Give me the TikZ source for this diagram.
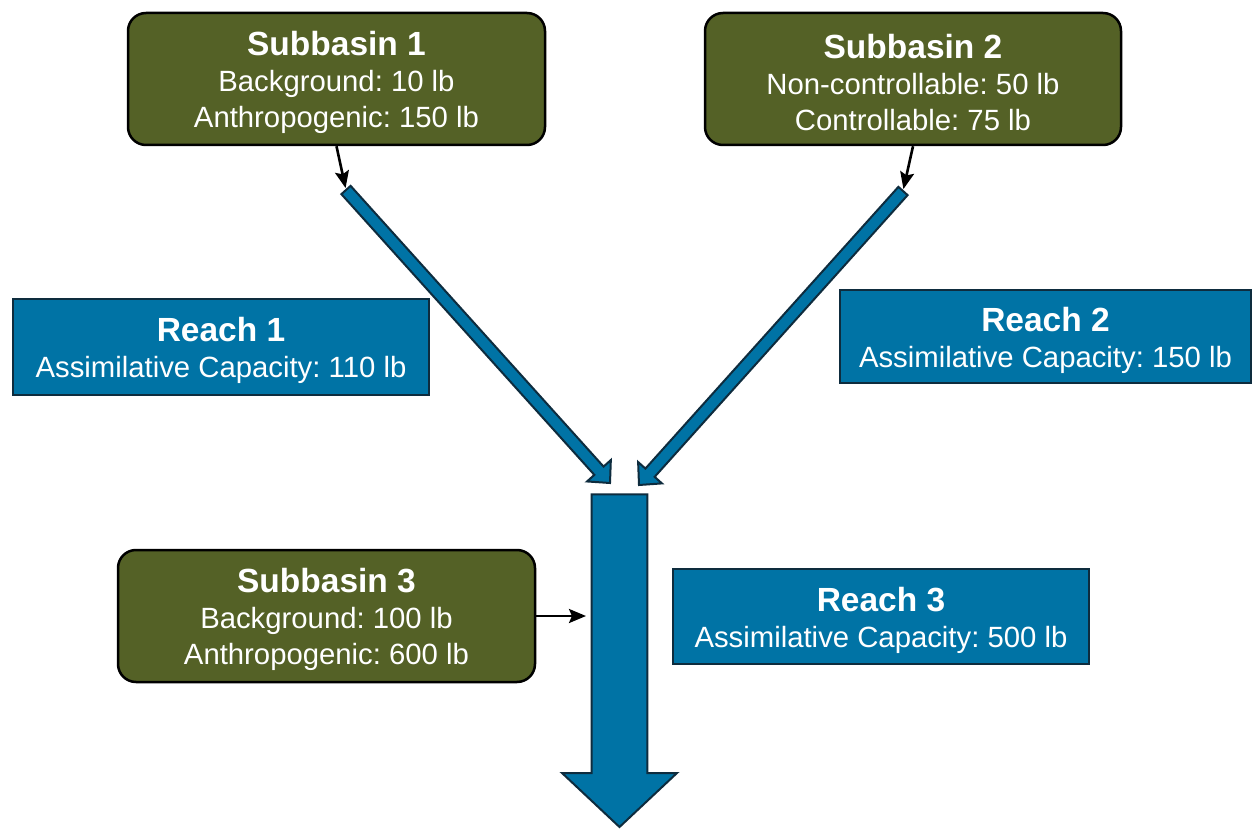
\documentclass[tikz,border=0pt]{standalone}
\usepackage{fontspec}
\setmainfont{Liberation Sans}
\frenchspacing
\usetikzlibrary{calc,arrows.meta}
\definecolor{olive}{HTML}{546126}
\definecolor{flowblue}{HTML}{0073A5}
\definecolor{flowedge}{HTML}{0E2C3E}
\newcommand\bodyfnt{\fontsize{29.3}{36}\selectfont}
\newcommand\titlefnt{\fontsize{33.5}{36}\selectfont\bfseries}
\newcommand\blockarrow[5]{%
  \coordinate (ba-h) at ($(#2)!#5!(#1)$);
  \draw[flowarrow] ($(#1)!#3!90:(#2)$) -- ($(ba-h)!#3!-90:(#1)$) -- ($(ba-h)!#4!-90:(#1)$) -- (#2)
    -- ($(ba-h)!#4!90:(#1)$) -- ($(ba-h)!#3!90:(#1)$) -- ($(#1)!#3!-90:(#2)$) -- cycle;}
\tikzset{
  subbox/.style={draw=black, line width=2.5pt, fill=olive, rounded corners=18pt, inner sep=0pt},
  reachbox/.style={draw=flowedge, line width=2.5pt, fill=flowblue, inner sep=0pt},
  boxtext/.style={text=white, align=center, font=\bodyfnt, inner sep=0pt},
  flowarrow/.style={draw=flowedge, line width=2pt, fill=flowblue, line join=miter},
  conn/.style={draw=black, line width=2.6pt, -{Stealth[length=17pt,width=14pt,inset=3pt]}}
}
\begin{document}
\begin{tikzpicture}[x=1pt,y=-1pt]
\fill[white] (0,0) rectangle (1254,829);
\useasboundingbox (0,0) rectangle (1254,829);

% flow arrows (reaches)
\coordinate (r1tail) at (346,190);
\coordinate (r1tip) at (610,483);
\coordinate (r2tail) at (903,191);
\coordinate (r2tip) at (639,485);
\coordinate (r3tail) at (619.5,494.3);
\coordinate (r3tip) at (619.5,827);
\coordinate (r3in) at (591,616);
\blockarrow{r1tail}{r1tip}{6.2pt}{16pt}{16.5pt}
\blockarrow{r2tail}{r2tip}{6.2pt}{16pt}{16.5pt}
\blockarrow{r3tail}{r3tip}{27.8pt}{57.5pt}{54pt}

% subbasins
\node[subbox, minimum width=417pt, minimum height=132pt] (sb1) at (336.5,79) {};
\node[boxtext] (sb1t) at ($(sb1.center)+(0,3.5)$)
  {{\titlefnt Subbasin 1}\\Background: 10 lb\\Anthropogenic: 150 lb};
\node[subbox, minimum width=416pt, minimum height=132pt] (sb2) at (913,79) {};
\node[boxtext] (sb2t) at ($(sb2.center)+(0,3.5)$)
  {{\titlefnt Subbasin 2}\\Non-controllable: 50 lb\\Controllable: 75 lb};
\node[subbox, minimum width=417pt, minimum height=132pt] (sb3) at (326.5,616) {};
\node[boxtext] (sb3t) at ($(sb3.center)+(0,3.5)$)
  {{\titlefnt Subbasin 3}\\Background: 100 lb\\Anthropogenic: 600 lb};

% reaches
\node[reachbox, minimum width=416pt, minimum height=96pt] (rc1) at (221,347) {};
\node[boxtext] (rc1t) at ($(rc1.center)+(0,3.5)$)
  {{\titlefnt Reach 1}\\Assimilative Capacity: 110 lb};
\node[reachbox, minimum width=411pt, minimum height=93pt] (rc2) at (1045.5,336.5) {};
\node[boxtext] (rc2t) at ($(rc2.center)+(0,3.5)$)
  {{\titlefnt Reach 2}\\Assimilative Capacity: 150 lb};
\node[reachbox, minimum width=416pt, minimum height=95pt] (rc3) at (881,616.5) {};
\node[boxtext] (rc3t) at ($(rc3.center)+(0,3.5)$)
  {{\titlefnt Reach 3}\\Assimilative Capacity: 500 lb};

% connectors
\draw[conn, shorten >=2pt] (sb1.south) -- (r1tail);
\draw[conn, shorten >=2pt] (sb2.south) -- (r2tail);
\draw[conn, shorten >=5pt] (sb3.east) -- (r3in);
\end{tikzpicture}
\end{document}
